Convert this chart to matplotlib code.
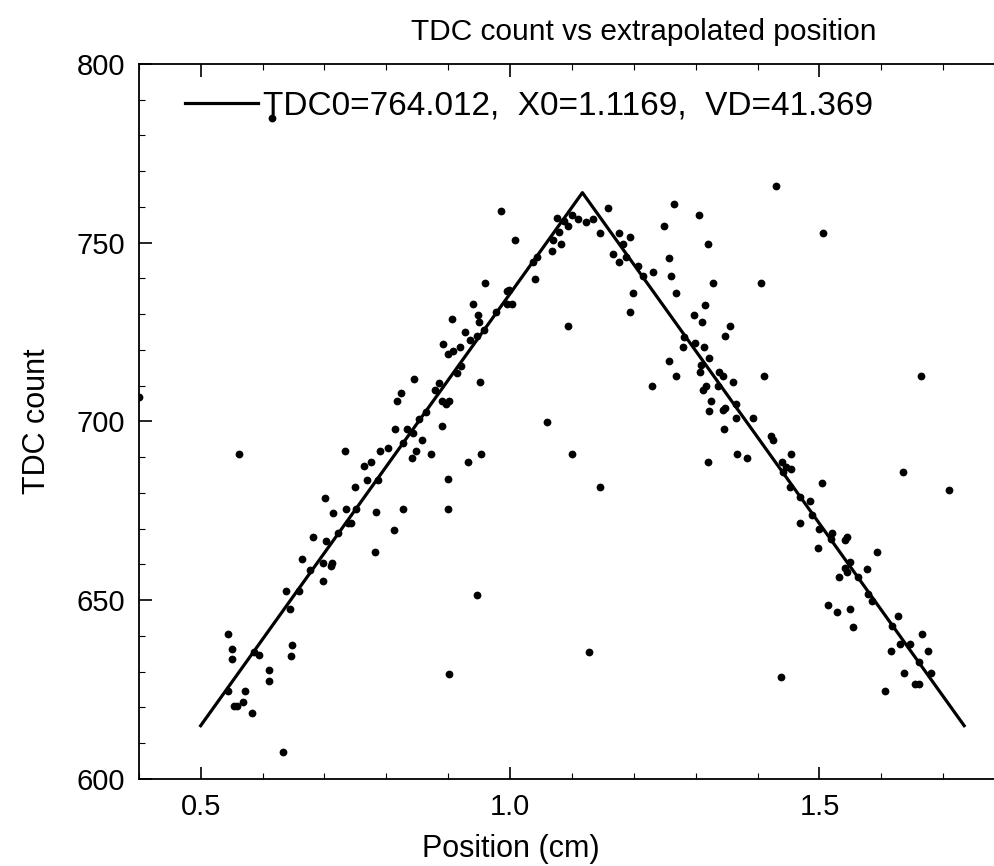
import matplotlib
matplotlib.use("Agg")
import matplotlib.pyplot as plt
from matplotlib.ticker import MultipleLocator, FixedLocator

plt.rcParams['font.family'] = ['Liberation Sans', 'DejaVu Sans']

# measured hits: extrapolated position (cm) and TDC count
pos_cm = [
    0.5436, 0.5511, 0.5506, 0.5861, 0.5947, 0.5436, 0.5721, 0.5543, 0.5582, 0.5684,
    0.5824, 0.6109, 0.6109, 0.6481, 0.6464, 0.6335, 0.6379, 0.6443, 0.6594, 0.6632,
    0.6767, 0.6810, 0.6972, 0.6972, 0.7025, 0.7101, 0.7127, 0.7214, 0.5619, 0.7009,
    0.7138, 0.7386, 0.7429, 0.7348, 0.7332, 0.7494, 0.7510, 0.7639, 0.7753, 0.7683,
    0.7861, 0.7838, 0.7817, 0.7898, 0.8027, 0.8129, 0.8262, 0.8140, 0.8168, 0.8237,
    0.8265, 0.8334, 0.8427, 0.8410, 0.8480, 0.8448, 0.8528, 0.8572, 0.8637, 0.8722,
    0.8795, 0.8844, 0.8905, 0.8965, 0.9018, 0.8905, 0.9002, 0.9002, 0.9316, 0.9526,
    0.8921, 0.9002, 0.9083, 0.9191, 0.9057, 0.9272, 0.9353, 0.9202, 0.9138, 0.9396,
    0.9487, 0.9503, 0.9471, 0.9579, 0.9514, 0.9595, 0.9773, 0.9956, 1.0027, 0.9988,
    0.9956, 0.9849, 1.0085, 1.0376, 1.0431, 1.0403, 1.0683, 1.0699, 1.0824, 1.0796,
    1.0942, 1.0754, 1.0872, 1.0996, 1.1103, 1.1223, 1.1336, 1.1459, 1.0932, 1.0602,
    1.0996, 1.1454, 0.9461, 0.9013, 1.1276, 1.1588, 1.1766, 1.1939, 1.1821, 1.1659,
    1.1753, 1.1874, 1.2073, 1.2154, 1.2315, 1.1982, 1.1939, 1.2655, 1.2488, 1.3054,
    1.3195, 1.2569, 1.2601, 1.2682, 1.3280, 1.4051, 1.3156, 1.2973, 1.3098, 1.3555,
    1.3474, 1.2812, 1.2791, 1.2990, 1.3135, 1.3216, 1.2564, 1.3082, 1.3070, 1.2682,
    1.3382, 1.3447, 1.3608, 1.4109, 1.2299, 1.3167, 1.3124, 1.3366, 1.3240, 1.3474,
    1.3447, 1.3216, 1.3652, 1.3647, 1.3922, 1.3463, 1.4213, 1.4255, 1.3673, 1.3825,
    1.3191, 1.4298, 1.5058, 1.6638, 1.4533, 1.4391, 1.4452, 1.4533, 1.4417, 1.5037,
    1.4525, 1.4686, 1.4848, 1.4876, 1.4686, 1.4994, 1.5199, 1.5180, 1.5441, 1.5414,
    1.4982, 1.5926, 1.5495, 1.5414, 1.5441, 1.5322, 1.5624, 1.5765, 1.5786, 1.5845,
    1.5134, 1.5289, 1.5495, 1.5543, 1.4380, 1.6356, 1.7100, 1.6060, 1.6168, 1.6275,
    1.6157, 1.6303, 1.6465, 1.6664, 1.6751, 1.6615, 1.6796, 1.6372, 1.6545, 1.6602,
    0.4003, 0.6148,
]
tdc_count = [
    640.5, 636.4, 633.5, 635.4, 634.6, 624.7, 624.5, 620.5, 620.5, 621.5,
    618.5, 630.5, 627.5, 637.5, 634.4, 607.6, 652.5, 647.5, 652.5, 661.5,
    658.5, 667.6, 660.5, 655.5, 666.7, 659.6, 660.3, 668.7, 690.8, 678.5,
    674.5, 671.7, 671.7, 675.6, 691.7, 681.6, 675.6, 687.6, 688.6, 683.6,
    683.6, 674.6, 663.4, 691.7, 692.7, 669.7, 675.6, 697.8, 705.7, 707.9,
    693.9, 697.8, 696.7, 689.7, 691.7, 711.8, 700.8, 694.8, 702.7, 690.8,
    708.7, 710.9, 705.7, 704.8, 705.7, 698.7, 683.8, 675.6, 688.8, 690.8,
    721.7, 718.8, 719.8, 720.9, 728.7, 724.9, 722.8, 715.5, 713.7, 732.8,
    729.8, 727.7, 724.0, 725.6, 711.0, 738.8, 730.7, 732.9, 732.9, 736.8,
    736.4, 758.9, 750.8, 744.7, 745.9, 739.8, 747.8, 750.8, 749.6, 753.1,
    754.7, 756.8, 756.2, 757.8, 756.6, 755.7, 756.6, 752.8, 726.7, 699.8,
    690.8, 681.7, 651.6, 629.5, 635.6, 759.8, 752.8, 751.7, 749.6, 746.8,
    744.7, 745.9, 743.6, 740.8, 741.7, 735.9, 730.7, 760.8, 754.8, 757.8,
    749.7, 745.8, 740.7, 735.9, 738.8, 738.8, 732.7, 729.7, 727.7, 726.8,
    723.8, 723.7, 720.8, 721.9, 720.8, 717.8, 716.8, 715.8, 713.9, 712.8,
    713.9, 712.8, 711.0, 712.8, 709.8, 709.8, 708.8, 709.8, 705.7, 703.9,
    703.2, 702.8, 704.9, 700.9, 700.9, 697.8, 695.8, 694.8, 690.9, 689.9,
    688.8, 765.9, 752.8, 712.8, 690.9, 688.8, 687.4, 686.7, 686.0, 682.9,
    681.6, 678.8, 677.8, 673.8, 671.7, 669.8, 668.7, 667.1, 667.8, 666.9,
    664.7, 663.6, 660.6, 658.9, 658.0, 656.6, 656.6, 658.7, 651.8, 649.7,
    648.7, 646.6, 647.6, 642.6, 628.6, 685.8, 680.8, 624.6, 642.8, 645.6,
    635.7, 637.7, 637.7, 640.6, 635.7, 632.6, 629.6, 629.6, 626.6, 626.6,
    706.9, 784.8,
]

# fitted triangle (vertices)
fit_x = [0.5, 1.1169, 1.7338]
fit_y = [614.9, 764.012, 614.9]
fit_label = "TDC0=764.012,  X0=1.1169,  VD=41.369"

title = "TDC count vs extrapolated position"
xlabel = "Position (cm)"
ylabel = "TDC count"
xticks = [0.5, 1.0, 1.5]
xticklabels = ["0.5", "1.0", "1.5"]
yticks = [600, 650, 700, 750, 800]

W, H = 994, 866
fig = plt.figure(figsize=(W / 100, H / 100), dpi=100)
ax = fig.add_axes([0.1396, 0.1005, 0.8604, 0.8256])

ax.plot(fit_x, fit_y, color='black', lw=2.3, label=fit_label, zorder=2)
ax.plot(pos_cm, tdc_count, 'o', color='black', ms=5.6, mew=0, zorder=3)

ax.set_xlim(0.4, 1.782)
ax.set_ylim(600, 800)
ax.xaxis.set_major_locator(FixedLocator(xticks))
ax.set_xticklabels(xticklabels)
ax.xaxis.set_minor_locator(MultipleLocator(0.1))
ax.yaxis.set_major_locator(FixedLocator(yticks))
ax.yaxis.set_minor_locator(MultipleLocator(10))
ax.tick_params(which='both', direction='in', top=True, right=False, labelsize=21, pad=10)
ax.tick_params(which='major', length=9, width=1.2)
ax.tick_params(which='minor', length=4, width=0.8)
for side in ['left', 'bottom', 'top']:
    ax.spines[side].set_linewidth(1.3)
ax.spines['right'].set_visible(False)

fig.text(644 / W, 1 - 32 / H, title, fontsize=21.5, ha='center', va='center')
ax.set_xlabel(xlabel, fontsize=22)
ax.xaxis.set_label_coords(0.435, -0.077)
ax.set_ylabel(ylabel, fontsize=22)
ax.yaxis.set_label_coords(-0.102, 0.5)

leg = ax.legend(loc='center left', bbox_to_anchor=(0.054, 0.941), frameon=False,
                fontsize=24, handlelength=2.2, handletextpad=0.15,
                borderaxespad=0, borderpad=0)

fig.savefig("out.png", dpi=100)
